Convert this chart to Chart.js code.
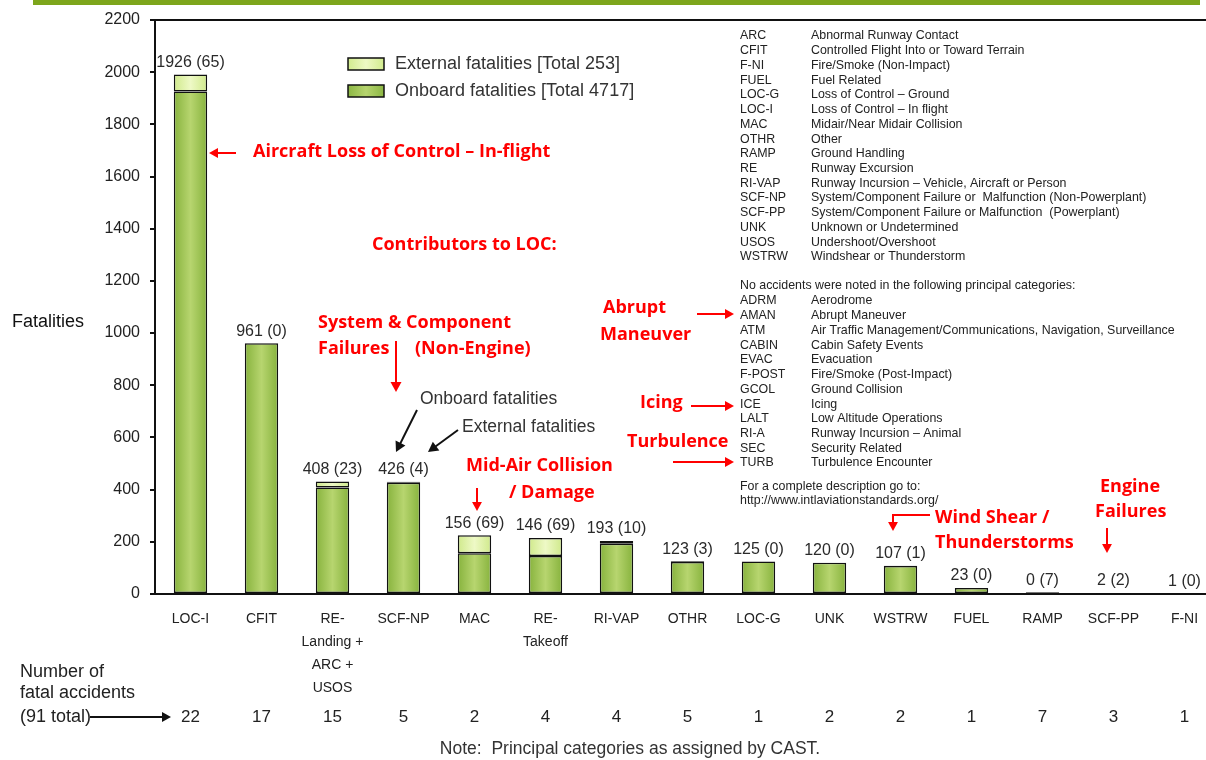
<!DOCTYPE html>
<html><head><meta charset="utf-8">
<script src="https://cdn.jsdelivr.net/npm/chart.js@4.4.1/dist/chart.umd.min.js"></script>
<style>html,body{margin:0;padding:0;background:#fff;overflow:hidden;}#wrap{width:1206px;height:760px;position:relative;overflow:hidden;}</style>
</head><body><div id="wrap"><canvas id="c" width="1220" height="760"></canvas></div>
<script>
const categories = [["LOC-I"],["CFIT"],["RE-","Landing +","ARC +","USOS"],["SCF-NP"],["MAC"],["RE-","Takeoff"],["RI-VAP"],["OTHR"],["LOC-G"],["UNK"],["WSTRW"],["FUEL"],["RAMP"],["SCF-PP"],["F-NI"]];
const onboard = [1926, 961, 408, 426, 156, 146, 193, 123, 125, 120, 107, 23, 0, 2, 1];
const external = [65, 0, 23, 4, 69, 69, 10, 3, 0, 0, 1, 0, 7, 2, 0];
const accidents = [22, 17, 15, 5, 2, 4, 4, 5, 1, 2, 2, 1, 7, 3, 1];
const yTicks = [0,200,400,600,800,1000,1200,1400,1600,1800,2000,2200];
const defAbbr = ["ARC","CFIT","F-NI","FUEL","LOC-G","LOC-I","MAC","OTHR","RAMP","RE","RI-VAP","SCF-NP","SCF-PP","UNK","USOS","WSTRW"];
const defText = ["Abnormal Runway Contact","Controlled Flight Into or Toward Terrain","Fire/Smoke (Non-Impact)","Fuel Related","Loss of Control \u2013 Ground","Loss of Control \u2013 In flight","Midair/Near Midair Collision","Other","Ground Handling","Runway Excursion","Runway Incursion \u2013 Vehicle, Aircraft or Person","System/Component Failure or  Malfunction (Non-Powerplant)","System/Component Failure or Malfunction  (Powerplant)","Unknown or Undetermined","Undershoot/Overshoot","Windshear or Thunderstorm"];
const noneAbbr = ["ADRM","AMAN","ATM","CABIN","EVAC","F-POST","GCOL","ICE","LALT","RI-A","SEC","TURB"];
const noneText = ["Aerodrome","Abrupt Maneuver","Air Traffic Management/Communications, Navigation, Surveillance","Cabin Safety Events","Evacuation","Fire/Smoke (Post-Impact)","Ground Collision","Icing","Low Altitude Operations","Runway Incursion \u2013 Animal","Security Related","Turbulence Encounter"];

const FONT = "'Liberation Sans', Arial, sans-serif";
const RED_FONT = "bold 18px 'Open Sans', Lato, sans-serif";

function grad(ctx, edge, mid) {
  const chart = ctx.chart;
  const xs = chart.scales && chart.scales.x;
  if (!xs || !chart.chartArea || ctx.dataIndex === undefined) return mid;
  const x = xs.getPixelForValue(ctx.dataIndex);
  const w = 17;
  const g = chart.ctx.createLinearGradient(x - w, 0, x + w, 0);
  g.addColorStop(0, edge); g.addColorStop(0.5, mid); g.addColorStop(1, edge);
  return g;
}

function arrow(c, x1, y1, x2, y2, color, head) {
  head = head || 8;
  c.save();
  c.strokeStyle = color; c.fillStyle = color; c.lineWidth = 2;
  const a = Math.atan2(y2 - y1, x2 - x1);
  c.beginPath(); c.moveTo(x1, y1); c.lineTo(x2 - Math.cos(a) * head * 0.8, y2 - Math.sin(a) * head * 0.8); c.stroke();
  c.beginPath(); c.moveTo(x2, y2);
  c.lineTo(x2 - head * Math.cos(a) + head * 0.55 * Math.sin(a), y2 - head * Math.sin(a) - head * 0.55 * Math.cos(a));
  c.lineTo(x2 - head * Math.cos(a) - head * 0.55 * Math.sin(a), y2 - head * Math.sin(a) + head * 0.55 * Math.cos(a));
  c.closePath(); c.fill();
  c.restore();
}

const overlay = {
  id: 'overlay',
  beforeDraw(chart) {
    const c = chart.ctx;
    c.save();
    c.fillStyle = '#7da61c';
    c.fillRect(33, 0, 1167, 5);
    c.restore();
  },
  afterDraw(chart) {
    const c = chart.ctx, xs = chart.scales.x, ys = chart.scales.y, ca = chart.chartArea;
    c.save();
    // top frame line
    c.strokeStyle = '#111'; c.lineWidth = 2;
    c.beginPath(); c.moveTo(ca.left, ca.top); c.lineTo(ca.right, ca.top); c.stroke();
    // value labels
    c.fillStyle = '#2a2a2a'; c.font = '16px ' + FONT; c.textAlign = 'center'; c.textBaseline = 'middle';
    for (let i = 0; i < onboard.length; i++) {
      const x = xs.getPixelForValue(i);
      const y = ys.getPixelForValue(onboard[i] + external[i]);
      c.fillText(onboard[i] + ' (' + external[i] + ')', x, y - 12);
    }
    // accidents counts row
    c.font = '17px ' + FONT; c.fillStyle = '#222';
    for (let i = 0; i < accidents.length; i++) {
      c.fillText(String(accidents[i]), xs.getPixelForValue(i), 717);
    }
    c.textAlign = 'left'; c.font = '18px ' + FONT;
    c.fillText('Number of', 20, 672);
    c.fillText('fatal accidents', 20, 693);
    c.fillText('(91 total)', 20, 717);
    arrow(c, 90, 717, 171, 717, '#111', 9);
    c.textAlign = 'center'; c.fillStyle = '#333'; c.font = '17.5px ' + FONT;
    c.fillText('Note:  Principal categories as assigned by CAST.', 630, 749);
    // y title
    c.textAlign = 'left'; c.fillStyle = '#111'; c.font = '18px ' + FONT;
    c.fillText('Fatalities', 12, 322);
    // legend
    const ds = chart.data.datasets;
    const legendItems = [[ds[1].label, '#d2ec8e', '#eef9c4'], [ds[0].label, '#8cb744', '#b6d46e']];
    c.font = '18px ' + FONT; c.fillStyle = '#333';
    legendItems.forEach((it, k) => {
      const by = 58 + k * 27;
      const g = c.createLinearGradient(348, 0, 384, 0);
      g.addColorStop(0, it[1]); g.addColorStop(0.5, it[2]); g.addColorStop(1, it[1]);
      c.fillStyle = g; c.fillRect(348, by, 36, 12);
      c.strokeStyle = '#111'; c.lineWidth = 1.5; c.strokeRect(348, by, 36, 12);
      c.fillStyle = '#333';
      c.fillText(it[0], 395, by + 6);
    });
    // definitions
    c.font = '12.4px ' + FONT; c.fillStyle = '#222';
    const lh = 14.73;
    defAbbr.forEach((a, k) => { c.fillText(a, 740, 36 + k * lh); c.fillText(defText[k], 811, 36 + k * lh); });
    c.fillText('No accidents were noted in the following principal categories:', 740, 286);
    noneAbbr.forEach((a, k) => { c.fillText(a, 740, 301 + k * lh); c.fillText(noneText[k], 811, 301 + k * lh); });
    c.fillText('For a complete description go to:', 740, 487);
    c.fillText('http://www.intlaviationstandards.org/', 740, 501);
    // black annotations
    c.font = '17.5px ' + FONT; c.fillStyle = '#333';
    c.fillText('Onboard fatalities', 420, 399);
    c.fillText('External fatalities', 462, 427);
    arrow(c, 417, 410, 396, 452, '#111', 10);
    arrow(c, 458, 430, 428, 452, '#111', 10);
    // red annotations
    const red = '#ff0000';
    c.font = RED_FONT; c.fillStyle = red;
    c.fillText('Aircraft Loss of Control \u2013 In-flight', 253, 152);
    arrow(c, 236, 153, 209, 153, red, 9);
    c.fillText('Contributors to LOC:', 372, 245);
    c.fillText('System & Component', 318, 323);
    c.fillText('Failures', 318, 349);
    c.fillText('(Non-Engine)', 415, 349);
    arrow(c, 396, 341, 396, 392, red, 10);
    c.fillText('Mid-Air Collision', 466, 466);
    c.fillText('/ Damage', 509, 493);
    arrow(c, 477, 488, 477, 511, red, 9);
    c.fillText('Abrupt', 603, 308);
    c.fillText('Maneuver', 600, 335);
    arrow(c, 697, 314, 734, 314, red, 9);
    c.fillText('Icing', 640, 403);
    arrow(c, 691, 406, 734, 406, red, 9);
    c.fillText('Turbulence', 627, 442);
    arrow(c, 673, 462, 734, 462, red, 9);
    c.fillText('Wind Shear /', 935, 518);
    c.fillText('Thunderstorms', 935, 543);
    c.strokeStyle = red; c.lineWidth = 2;
    c.beginPath(); c.moveTo(930, 515); c.lineTo(893, 515); c.lineTo(893, 522); c.stroke();
    arrow(c, 893, 520, 893, 531, red, 9);
    c.fillText('Engine', 1100, 487);
    c.fillText('Failures', 1095, 512);
    arrow(c, 1107, 528, 1107, 553, red, 9);
    c.restore();
  }
};

new Chart(document.getElementById('c'), {
  type: 'bar',
  data: {
    labels: categories,
    datasets: [
      { label: 'Onboard fatalities [Total 4717]', data: onboard,
        backgroundColor: (ctx) => grad(ctx, '#86b23c', '#b7d56f'),
        borderColor: '#111', borderWidth: 1.5, borderSkipped: false,
        barPercentage: 0.94, categoryPercentage: 0.5 },
      { label: 'External fatalities [Total 253]', data: external,
        backgroundColor: (ctx) => grad(ctx, '#cfe98a', '#eef9c6'),
        borderColor: '#111', borderWidth: 1.5, borderSkipped: false,
        barPercentage: 0.94, categoryPercentage: 0.5 }
    ]
  },
  options: {
    responsive: false, animation: false, devicePixelRatio: 1,
    layout: { padding: { top: 20, right: 0, left: 0, bottom: 0 } },
    plugins: { legend: { display: false }, tooltip: { enabled: false } },
    scales: {
      x: {
        stacked: true,
        grid: { display: false },
        border: { display: true, color: '#111', width: 2 },
        ticks: { color: '#222', font: { family: FONT, size: 14, lineHeight: 1.64 }, padding: 6, maxRotation: 0, autoSkip: false },
        afterFit(s) { s.height = 166; }
      },
      y: {
        stacked: true, min: 0, max: 2200,
        afterBuildTicks(s) { s.ticks = yTicks.map(v => ({ value: v })); },
        grid: { drawOnChartArea: false, color: '#111', tickLength: 5, lineWidth: 2 },
        border: { display: true, color: '#111', width: 2 },
        ticks: { color: '#222', font: { family: FONT, size: 16 }, padding: 10, callback: (v) => String(v) },
        afterFit(s) { s.width = 155; }
      }
    }
  },
  plugins: [overlay]
});
</script></body></html>
